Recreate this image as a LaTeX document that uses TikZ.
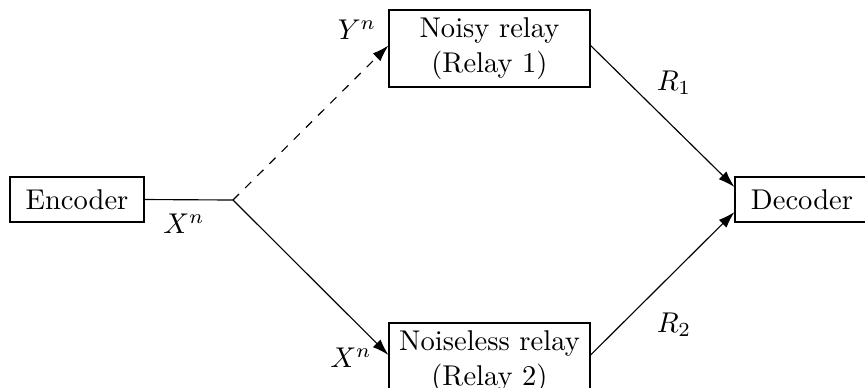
\documentclass[tikz,border=0pt]{standalone}
\usetikzlibrary{arrows.meta,calc}
\begin{document}
\begin{tikzpicture}[x=0.35pt,y=-0.35pt,
  blk/.style={draw,line width=0.4pt,inner sep=0pt,align=center},
  enc/.style={blk,minimum width=46.9pt,minimum height=15.75pt},
  rel/.style={blk,minimum width=70.35pt,minimum height=26.95pt},
  arr/.style={-{Latex[length=5.8pt,width=3.8pt]},line width=0.4pt},
  lab/.style={inner sep=0pt}]
\useasboundingbox (0,0) rectangle (865,387);
\node[enc] (enc) at (77,199.5) {Encoder};
\node[enc] (dec) at (802,199.5) {Decoder};
\node[rel] (r1) at (489.5,48.5) {Noisy relay\\(Relay 1)};
\node[rel] (r2) at (489.5,361.5) {Noiseless relay\\(Relay 2)};
\coordinate (br) at (233,200);
\draw[line width=0.4pt] (enc.east) -- (br);
\draw[arr,dashed] (br) -- ($(r1.west)+(0,-3)$);
\draw[arr] (br) -- ($(r2.west)+(0,-6.5)$);
\draw[arr] ($(r1.east)+(0,-3)$) -- ($(dec.west)+(0,-12.5)$);
\draw[arr] ($(r2.east)+(0,-6.5)$) -- ($(dec.west)+(0,12.5)$);
\node[lab] (lx1) at (184,224) {$X^n$};
\node[lab] (ly) at (357,30) {$Y^n$};
\node[lab] (lx2) at (351,358) {$X^n$};
\node[lab] (lr1) at (674,83) {$R_1$};
\node[lab] (lr2) at (674,325) {$R_2$};
\end{tikzpicture}
\end{document}
